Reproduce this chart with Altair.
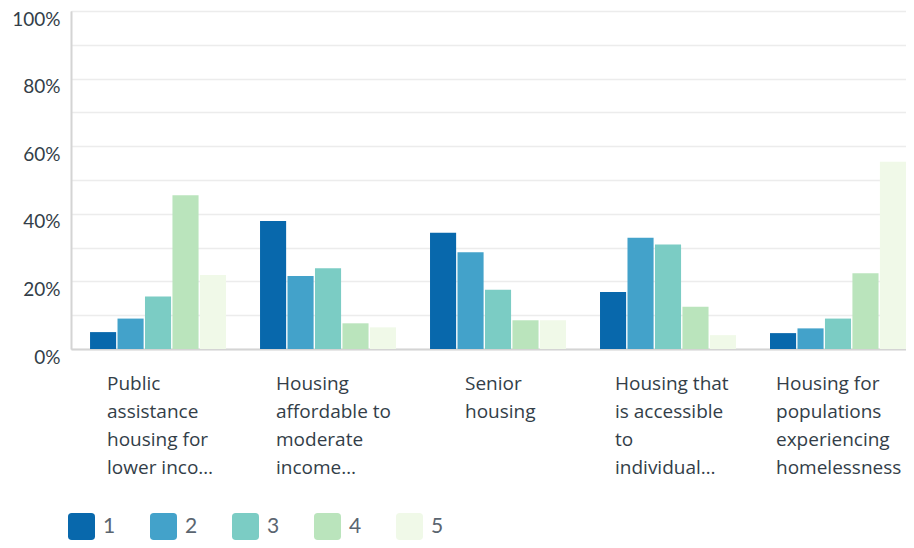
import altair as alt
import pandas as pd

categories = [
    "Public assistance housing for lower income",
    "Housing affordable to moderate income",
    "Senior housing",
    "Housing that is accessible to individuals",
    "Housing for populations experiencing homelessness",
]
labels = [
    "Public\nassistance\nhousing for\nlower inco…",
    "Housing\naffordable to\nmoderate\nincome…",
    "Senior\nhousing",
    "Housing that\nis accessible\nto\nindividual…",
    "Housing for\npopulations\nexperiencing\nhomelessness",
]
series = ["1", "2", "3", "4", "5"]
values = {
    "1": [5.0, 37.9, 34.4, 16.9, 4.7],
    "2": [9.0, 21.6, 28.6, 32.9, 6.1],
    "3": [15.5, 23.9, 17.5, 30.9, 9.0],
    "4": [45.5, 7.6, 8.5, 12.5, 22.4],
    "5": [21.9, 6.4, 8.5, 4.1, 55.4],
}
colors = ["#0868ac", "#43a2ca", "#7bccc4", "#bae4bc", "#f0f9e8"]
y_ticks = [0, 0.1, 0.2, 0.3, 0.4, 0.5, 0.6, 0.7, 0.8, 0.9, 1.0]

# horizontal shift of each left-aligned label block (styling only)
label_dx = [-51, -52, -33, -53, -62]

rows = []
for s in series:
    for c, v in zip(categories, values[s]):
        rows.append({"category": c, "series": s, "value": v / 100})
df = pd.DataFrame(rows)
lab_df = pd.DataFrame({"category": categories, "label": labels})

W, H = 835, 338
xscale = alt.Scale(domain=categories, paddingInner=0.2, paddingOuter=0.056, align=1)

rounded = ("M-1,-0.72 Q-1,-1 -0.72,-1 L0.72,-1 Q1,-1 1,-0.72 L1,0.72 "
           "Q1,1 0.72,1 L-0.72,1 Q-1,1 -1,0.72 Z")

bars = alt.Chart(df).mark_bar().encode(
    x=alt.X("category:N", scale=xscale, sort=categories,
            axis=alt.Axis(labels=False, ticks=False, title=None, domain=True,
                          domainColor="#d4d4d4", domainWidth=2)),
    xOffset=alt.XOffset("series:N", sort=series,
                        scale=alt.Scale(paddingInner=0.05, paddingOuter=0)),
    y=alt.Y("value:Q", scale=alt.Scale(domain=[0, 1], nice=False),
            axis=alt.Axis(values=y_ticks, format=".0%", title=None,
                          labelExpr="round(datum.value*10) % 2 == 0 ? datum.label : ''",
                          ticks=False, domain=True, domainColor="#d4d4d4", domainWidth=2,
                          grid=True, gridColor="#ececec", gridWidth=1.5,
                          labelFont="Lato", labelFontSize=19, labelColor="#333e48",
                          labelPadding=11, labelOffset=8, labelBaseline="middle")),
    color=alt.Color("series:N", sort=series,
                    scale=alt.Scale(domain=series, range=colors),
                    legend=alt.Legend(orient="none", legendX=-3, legendY=502,
                                      direction="horizontal", columns=5, title=None,
                                      symbolType=rounded, symbolSize=729,
                                      symbolStrokeWidth=0, symbolOpacity=1,
                                      labelFont="Lato", labelFontSize=21,
                                      labelColor="#5a6570", labelOffset=8,
                                      columnPadding=34)),
)

text_layers = []
for cat, dx in zip(categories, label_dx):
    text_layers.append(
        alt.Chart(lab_df).transform_filter(alt.datum.category == cat)
        .mark_text(align="left", baseline="alphabetic", dx=dx, lineBreak="\n",
                   lineHeight=28, font="Open Sans", fontSize=19, color="#333e48")
        .encode(x=alt.X("category:N", scale=xscale, sort=categories),
                y=alt.value(379), text="label:N")
    )

chart = alt.layer(bars, *text_layers).properties(
    width=W, height=H,
    autosize=alt.AutoSizeParams(type="none"),
    padding={"left": 63, "top": 3, "right": 0, "bottom": 191},
).configure_view(stroke=None).configure(background="white")

chart.save("out.html", embed_options={"renderer": "svg", "actions": False})
